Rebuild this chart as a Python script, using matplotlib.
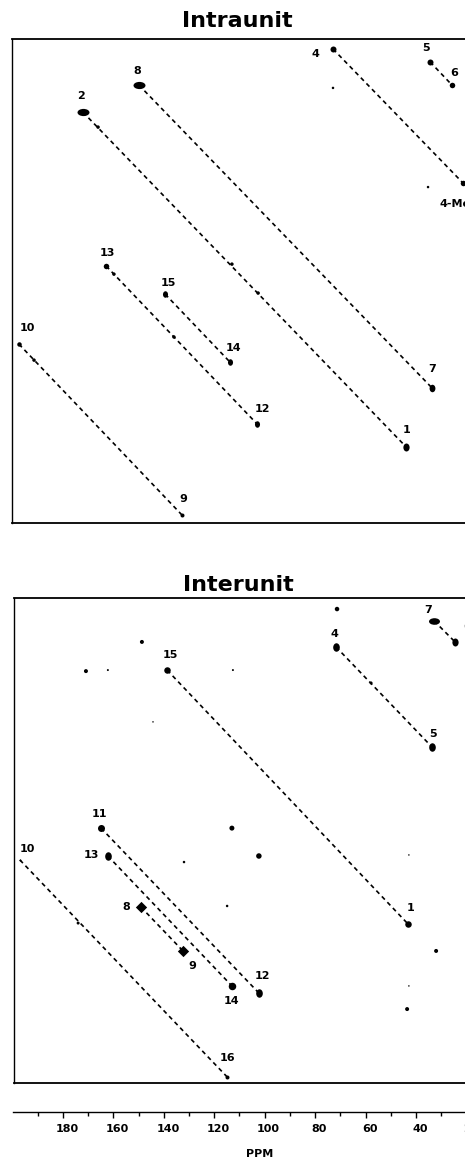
import matplotlib
matplotlib.use('Agg')
import matplotlib.pyplot as plt
from matplotlib.path import Path
from matplotlib.transforms import ScaledTranslation

plt.rcParams['font.family'] = ['DejaVu Sans']

# ---------------- data (x: 13C shift, ppm; y: F1 position, same ppm-like units from panel top) ----------------
intra_labels = ['4', '5', '6', '4-Me', '8', '2', '13', '15', '14', '10', '7', '12', '1', '9']
intra_x = [72.9, 34.4, 25.7, 21.3, 149.9, 172.1, 162.9, 139.5, 113.8, 197.5, 33.6, 103.0, 43.9, 132.8]
intra_y = [3.8, 8.7, 17.5, 54.8, 17.5, 27.8, 86.3, 97.0, 122.8, 116.0, 132.7, 146.4, 155.1, 181.0]
intra_pairs = [('4', '4-Me'), ('5', '6'), ('8', '7'), ('2', '1'), ('13', '12'), ('15', '14'), ('10', '9')]
intra_extra_x = [166.1, 72.9, 35.2, 159.8, 113.0, 102.6, 136.0, 191.5]
intra_extra_y = [33.5, 18.6, 56.3, 89.4, 85.6, 96.6, 113.3, 122.1]

inter_labels = ['7', '6', '4', '5', '15', '11', '10', '13', '8', '1', '9', '12', '14', '16']
inter_x = [32.8, 24.5, 71.7, 33.6, 138.7, 164.9, 197.1, 162.2, 149.1, 43.1, 132.4, 102.3, 113.0, 114.9]
inter_y = [8.7, 16.7, 18.6, 56.7, 27.4, 87.5, 99.6, 98.1, 117.5, 124.0, 134.2, 150.2, 147.5, 182.1]
inter_pairs = [('7', '6'), ('4', '5'), ('15', '1'), ('11', '12'), ('13', '14'), ('8', '9'), ('10', '16')]
inter_extra_x = [71.3, 57.8, 148.7, 170.9, 162.2, 112.6, 144.3, 113.0, 102.3, 132.0, 42.8, 114.9, 174.0, 32.0, 42.8, 43.5]
inter_extra_y = [4.2, 32.3, 16.7, 27.8, 27.4, 27.4, 47.1, 87.5, 98.1, 100.4, 97.7, 117.1, 123.6, 134.2, 147.5, 156.3]

ppm_ticks = [180, 160, 140, 120, 100, 80, 60, 40, 20]
ppm_ticklabels = ['180', '160', '140', '120', '100', '80', '60', '40', '20']
ppm_minor = [190, 170, 150, 130, 110, 90, 70, 50, 30]

# ---------------- styles / layout ----------------
W, H = 465, 1158
PX_PER_PPM = 2.521
REF_PX, REF_PPM = 63, 180
Y_PX_PER_UNIT = 2.63


def px2ppm(px):
    return REF_PPM - (px - REF_PX) / PX_PER_PPM


circ = Path.unit_circle()
hblob = Path(circ.vertices * [1.0, 0.6], circ.codes)
vblob = Path(circ.vertices * [0.78, 1.0], circ.codes)
MARK = {'o': 'o', 'h': hblob, 'v': vblob, 'D': 'D'}

# marker type and largest dimension (px) per labelled peak
intra_style = {'4': ('o', 6), '5': ('o', 6), '6': ('o', 5.5), '4-Me': ('o', 5.5), '8': ('h', 12),
               '2': ('h', 12), '13': ('o', 5.5), '15': ('v', 6.5), '14': ('v', 6.5), '10': ('o', 4.5),
               '7': ('v', 7.5), '12': ('v', 6.5), '1': ('v', 8), '9': ('o', 4)}
inter_style = {'7': ('h', 11), '6': ('v', 8), '4': ('v', 8.5), '5': ('v', 8.5), '15': ('o', 6.5),
               '11': ('o', 7), '10': ('o', 2), '13': ('v', 8.5), '8': ('D', 8), '1': ('o', 6.5),
               '9': ('D', 8), '12': ('v', 8.5), '14': ('o', 7.5), '16': ('o', 4)}
intra_extra_d = [3.5, 2.5, 2.5, 3.5, 3.5, 3.5, 3.5, 3.5]
inter_extra_d = [4.5, 3, 4, 4, 2, 2, 1.5, 5, 5.5, 2.5, 1.5, 2.5, 3, 4, 1.5, 4]

# label offsets in pixels (dx right, dy down)
intra_off = {'4': (-18, 4), '5': (-4, -15), '6': (2, -13), '4-Me': (-8, 20), '8': (-2, -15),
             '2': (-2, -17), '13': (1, -14), '15': (3, -12), '14': (4, -15), '10': (8, -17),
             '7': (0, -20), '12': (5, -16), '1': (0, -18), '9': (1, -17)}
inter_off = {'7': (-6, -12), '6': (12, -16), '4': (-2, -14), '5': (1, -14), '15': (3, -16),
             '11': (-2, -15), '10': (7, -12), '13': (-16, -2), '8': (-15, -1), '1': (2, -17),
             '9': (9, 14), '12': (4, -18), '14': (0, 14), '16': (0, -20)}

fig = plt.figure(figsize=(W / 100, H / 100), dpi=100)


def make_panel(left, top, bottom, right=480):
    ax = fig.add_axes([left / W, 1 - bottom / H, (right - left) / W, (bottom - top) / H])
    ax.set_xlim(px2ppm(left), px2ppm(right))
    ax.set_ylim((bottom - top) / Y_PX_PER_UNIT, 0)
    ax.set_xticks([])
    ax.set_yticks([])
    for s in ax.spines.values():
        s.set_linewidth(1.3)
    ax.spines['left'].set_linewidth(1.0)
    return ax


def d2s(d):
    return (d * 0.72) ** 2


def draw(ax, labels, xs, ys, style, pairs, ex_x, ex_y, ex_d, offs):
    pos = {l: (x, y) for l, x, y in zip(labels, xs, ys)}
    for a, b in pairs:
        ax.plot([pos[a][0], pos[b][0]], [pos[a][1], pos[b][1]], color='black',
                lw=1.2, ls=(0, (2.6, 2.2)), zorder=1, dash_capstyle='butt')
    ax.scatter(ex_x, ex_y, s=[d2s(d) for d in ex_d], color='black', linewidths=0, zorder=2)
    for l, x, y in zip(labels, xs, ys):
        m, d = style[l]
        ax.scatter([x], [y], s=d2s(d), marker=MARK[m], color='black', linewidths=0, zorder=3)
        dx, dy = offs[l]
        ax.annotate(l, (x, y), xytext=(dx, -dy), textcoords='offset pixels', ha='center',
                    va='center_baseline', fontsize=8, fontweight='bold', zorder=4)


ax1 = make_panel(12, 39, 523)
draw(ax1, intra_labels, intra_x, intra_y, intra_style, intra_pairs,
     intra_extra_x, intra_extra_y, intra_extra_d, intra_off)
ax2 = make_panel(14, 598, 1083)
draw(ax2, inter_labels, inter_x, inter_y, inter_style, inter_pairs,
     inter_extra_x, inter_extra_y, inter_extra_d, inter_off)

fig.text(237 / W, 1 - 27 / H, 'Intraunit', ha='center', va='baseline', fontsize=16, fontweight='bold')
fig.text(238 / W, 1 - 591 / H, 'Interunit', ha='center', va='baseline', fontsize=16, fontweight='bold')

# PPM scale axis
ax3 = fig.add_axes([13 / W, 1 - 1112 / H, (480 - 13) / W, 0.0001])
ax3.set_xlim(px2ppm(13), px2ppm(480))
ax3.set_ylim(0, 1)
for k in ['left', 'right', 'top']:
    ax3.spines[k].set_visible(False)
ax3.spines['bottom'].set_linewidth(1.0)
ax3.set_yticks([])
ax3.set_xticks(ppm_ticks)
ax3.set_xticklabels(ppm_ticklabels, fontsize=8, fontweight='bold')
ax3.set_xticks(ppm_minor, minor=True)
ax3.tick_params(axis='x', which='major', direction='out', length=4, width=1.0, pad=5)
ax3.tick_params(axis='x', which='minor', direction='out', length=3, width=1.0)
shift = ScaledTranslation(4 / 100, 0, fig.dpi_scale_trans)
for t in ax3.get_xticklabels():
    t.set_transform(t.get_transform() + shift)
fig.text(260 / W, 1 - 1153 / H, 'PPM', ha='center', va='center_baseline', fontsize=8, fontweight='bold')

fig.savefig('out.png', dpi=100)
